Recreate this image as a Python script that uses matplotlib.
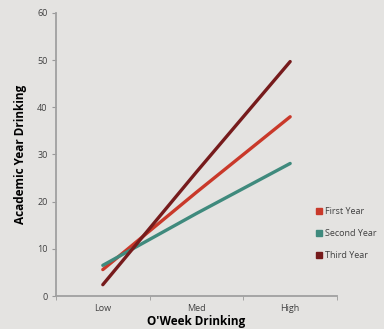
import matplotlib.pyplot as plt
from matplotlib.lines import Line2D

categories = ["Low", "Med", "High"]
first_year = [5.6, 22.0, 38.0]
second_year = [6.5, 17.5, 28.1]
third_year = [2.4, 26.3, 49.7]
series_names = ["First Year", "Second Year", "Third Year"]
colors = ["#C9392A", "#3F8A7D", "#761B1C"]

plt.rcParams["font.family"] = ["Open Sans", "DejaVu Sans"]

bg = "#E4E3E1"
fig = plt.figure(figsize=(3.84, 3.29), dpi=100, facecolor=bg)
ax = fig.add_axes([0.1458, 0.1003, 0.7318, 0.8602], facecolor=bg)

x = list(range(len(categories)))
for vals, c in zip([first_year, second_year, third_year], colors):
    ax.plot(x, vals, color=c, lw=2.4, solid_capstyle="round")

ax.set_xlim(-0.5, 2.5)
ax.set_ylim(0, 60)
ax.set_yticks(range(0, 61, 10))
ax.set_xticks(x)
ax.set_xticklabels(categories)
ax.set_xticks([-0.5, 0.5, 1.5, 2.5], minor=True)
ax.tick_params(axis="x", which="major", length=0, pad=6, labelsize=6.5, colors="#404040")
ax.tick_params(axis="x", which="minor", length=3, color="#999999")
ax.tick_params(axis="y", length=3, color="#999999", labelsize=6.5, labelcolor="#404040", pad=3)

for s in ["top", "right"]:
    ax.spines[s].set_visible(False)
for s in ["left", "bottom"]:
    ax.spines[s].set_color("#A0A0A0")
    ax.spines[s].set_linewidth(1.3)

ax.set_ylabel("Academic Year Drinking", fontsize=8.5, fontweight="bold", labelpad=7)
ax.set_xlabel("O'Week Drinking", fontsize=8.5, fontweight="bold", labelpad=1)

handles = [Line2D([], [], marker="s", ls="", color=c, markersize=4.5) for c in colors]
leg = fig.legend(handles, series_names, loc="upper left", bbox_to_anchor=(0.803, 0.395),
                 frameon=False, fontsize=6.5, handlelength=0.6, handletextpad=0.3,
                 labelspacing=1.45)
for t in leg.get_texts():
    t.set_color("#404040")

fig.savefig("out.png", dpi=100, facecolor=bg)
